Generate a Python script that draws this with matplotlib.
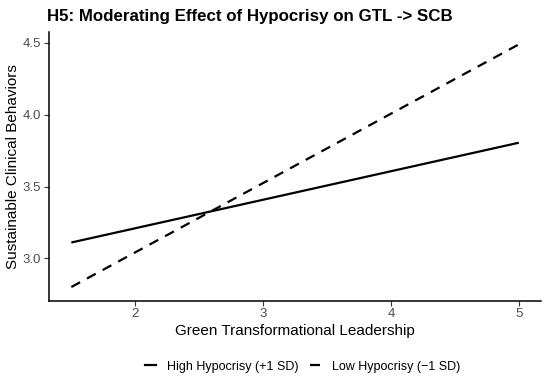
import matplotlib
matplotlib.use("Agg")
import matplotlib.pyplot as plt
from matplotlib.lines import Line2D

plt.rcParams['font.family'] = ['Liberation Sans', 'DejaVu Sans']

# 数据：两条简单斜率线
gtl = [1.5, 5.0]
high_hyp = [3.11, 3.805]
low_hyp = [2.80, 4.49]
x_ticks = [2, 3, 4, 5]
y_ticks = [3.0, 3.5, 4.0, 4.5]

fig = plt.figure(figsize=(5.5, 3.83), dpi=100)
ax = fig.add_axes([0.089, 0.215, 0.895, 0.701])

ax.plot(gtl, high_hyp, color='black', lw=1.6, solid_capstyle='butt')
ax.plot(gtl, low_hyp, color='black', lw=1.6, linestyle=(0, (4.5, 3.5)), dash_capstyle='butt')

ax.set_xlim(1.5 - 0.175, 5.0 + 0.175)
ax.set_ylim(2.705, 4.575)
ax.set_xticks(x_ticks)
ax.set_xticklabels([str(t) for t in x_ticks])
ax.set_yticks(y_ticks)
ax.set_yticklabels([f"{t:.1f}" for t in y_ticks])

for side in ['top', 'right']:
    ax.spines[side].set_visible(False)
for side in ['left', 'bottom']:
    ax.spines[side].set_linewidth(1.1)
ax.tick_params(axis='both', length=3.5, width=0.8, color='#333333',
               labelcolor='#4d4d4d', labelsize=9.5, pad=2)

ax.set_xlabel('Green Transformational Leadership', fontsize=11, labelpad=3)
ax.set_ylabel('Sustainable Clinical Behaviors', fontsize=11, labelpad=2)
fig.text(0.086, 0.945, 'H5: Moderating Effect of Hypocrisy on GTL -> SCB',
         fontsize=12.2, fontweight='bold', ha='left', va='baseline')

handles = [Line2D([0], [0], color='black', lw=1.6),
           Line2D([0], [0], color='black', lw=1.6, linestyle=(0, (4.5, 3.5)))]
fig.legend(handles, ['High Hypocrisy (+1 SD)', 'Low Hypocrisy (\u22121 SD)'],
           loc='center', bbox_to_anchor=(0.55, 0.043), ncol=2, frameon=False,
           fontsize=9, handlelength=0.9, columnspacing=0.9, handletextpad=0.9)

fig.savefig('out.png', dpi=100)
